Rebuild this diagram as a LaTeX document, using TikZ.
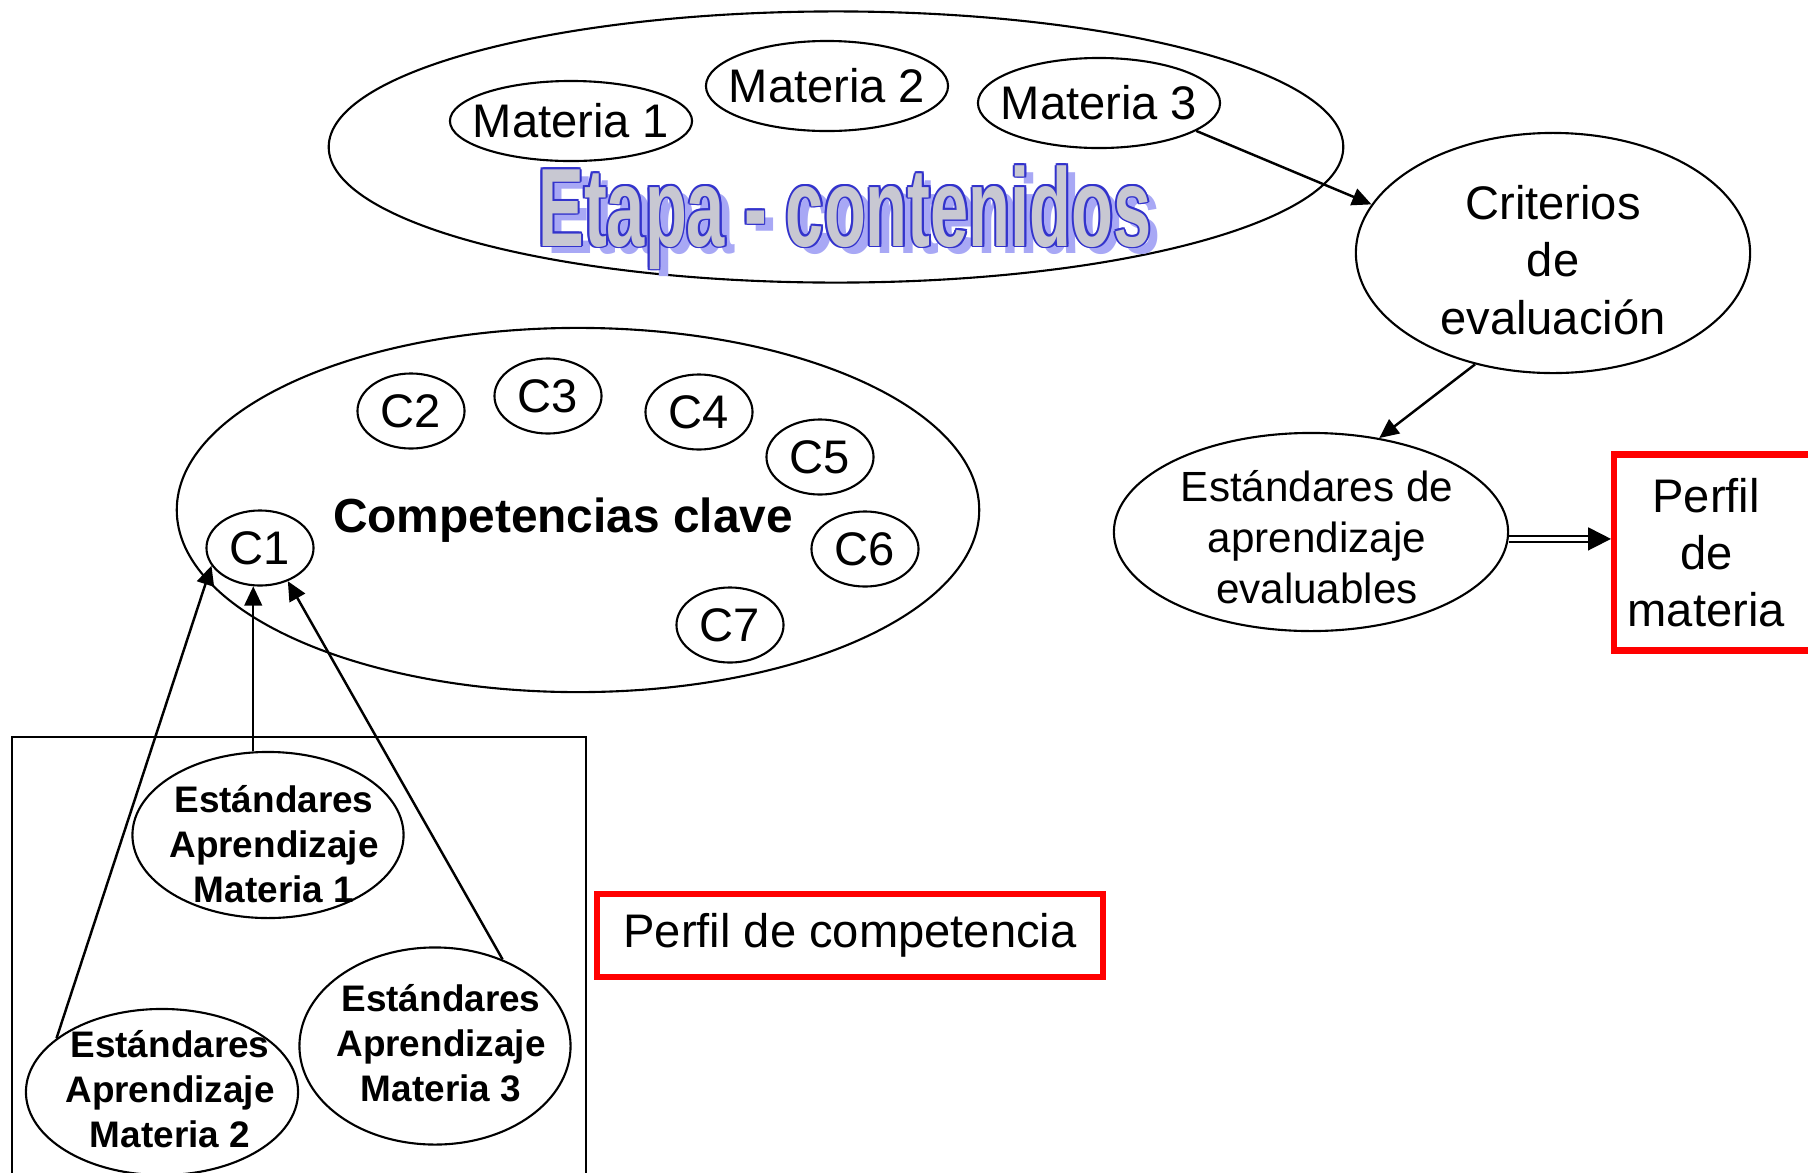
\documentclass[tikz,border=0pt]{standalone}
\usepackage{fontspec}
\setmainfont{Liberation Sans}
\usepackage{graphicx}
\usepackage{tikz}
\usetikzlibrary{shapes.geometric}
\usetikzlibrary{arrows.meta}
\definecolor{etline}{RGB}{51,51,204}
\definecolor{etfill}{RGB}{200,200,210}
\definecolor{etshadow}{RGB}{168,168,245}
\definecolor{rojo}{RGB}{255,0,0}
\newcommand{\etapatxt}{\scalebox{0.615}[1]{\fontsize{31.7}{34}\selectfont\bfseries Etapa - contenidos}}

\begin{document}
\begin{tikzpicture}[x=0.01cm,y=-0.01cm,
  every node/.style={font=\fontsize{13.4}{16.3}\selectfont,align=center},
  elip/.style={draw,ellipse,inner sep=0pt,line width=0.6pt},
  cnode/.style={elip,minimum width=1.07cm,minimum height=0.75cm},
  estdtxt/.style={font=\fontsize{10.5}{12.8}\selectfont\bfseries},
  caja/.style={draw=rojo,line width=1.8pt,inner sep=0pt},
  flecha/.style={-{Triangle[length=5.5pt,width=5pt]},line width=0.7pt},
  dflecha/.style={double,double distance=1.1pt,line width=0.5pt,-{Triangle[length=6.5pt,width=6.5pt]}}]
\clip (0,0) rectangle (1808,1172);
% etapa - contenidos
\node[elip,minimum width=10.14cm,minimum height=2.71cm] (etapabig) at (836,147) {};
\node[elip,minimum width=2.42cm,minimum height=0.8cm,label={center:Materia 1}] (m1) at (571,121) {};
\node[elip,minimum width=2.42cm,minimum height=0.9cm,label={center:Materia 2}] (m2) at (827,86) {};
\node[elip,minimum width=2.42cm,minimum height=0.9cm,label={center:Materia 3}] (m3) at (1099,103) {};
\node[anchor=base,text=etshadow,xshift=2.6pt,yshift=-2.2pt] (etsh) at (845,246) {\etapatxt};
\node[anchor=base,text=etline,xshift=0.55pt] (eto1) at (845,246) {\etapatxt};
\node[anchor=base,text=etline,xshift=-0.55pt] (eto2) at (845,246) {\etapatxt};
\node[anchor=base,text=etline,yshift=0.55pt] (eto3) at (845,246) {\etapatxt};
\node[anchor=base,text=etline,yshift=-0.55pt] (eto4) at (845,246) {\etapatxt};
\node[anchor=base,text=etline,xshift=0.4pt,yshift=0.4pt] (eto5) at (845,246) {\etapatxt};
\node[anchor=base,text=etline,xshift=-0.4pt,yshift=0.4pt] (eto6) at (845,246) {\etapatxt};
\node[anchor=base,text=etline,xshift=0.4pt,yshift=-0.4pt] (eto7) at (845,246) {\etapatxt};
\node[anchor=base,text=etline,xshift=-0.4pt,yshift=-0.4pt] (eto8) at (845,246) {\etapatxt};
\node[anchor=base,text=etfill] (etapa) at (845,246) {\etapatxt};

% criterios, estandares, perfil de materia
\node[elip,minimum width=3.94cm,minimum height=2.4cm,label={[yshift=-0.07cm]center:Criterios\\de\\evaluación}] (crit) at (1553,253) {};
\node[elip,minimum width=3.94cm,minimum height=1.98cm,label={[font=\fontsize{12}{14.5}\selectfont,xshift=0.06cm,yshift=-0.05cm]center:Estándares de\\aprendizaje\\evaluables}] (eval) at (1311,532) {};
\node[caja,minimum width=2.6cm,minimum height=1.96cm,anchor=west,label={[xshift=-0.38cm]center:Perfil\\de\\materia}] (pmat) at (1611,552.5) {};

% competencias clave
\node[elip,minimum width=8.02cm,minimum height=3.64cm,label={[font=\fontsize{13.6}{16}\selectfont\bfseries,xshift=-0.15cm,yshift=-0.1cm]center:Competencias clave}] (comp) at (578,510) {};
\node[cnode] (c1) at (260,548) {C1};
\node[cnode] (c2) at (411,411) {C2};
\node[cnode] (c3) at (548,396) {C3};
\node[cnode] (c4) at (699,412) {C4};
\node[cnode] (c5) at (820,457) {C5};
\node[cnode] (c6) at (865,549) {C6};
\node[cnode] (c7) at (730,625) {C7};

% perfil de competencia
\node[draw,line width=0.6pt,minimum width=5.74cm,minimum height=5cm,anchor=north west,inner sep=0pt] (marco) at (11,736) {};
\node[elip,minimum width=2.71cm,minimum height=1.66cm,label={[estdtxt,xshift=0.06cm,yshift=-0.09cm]center:Estándares\\Aprendizaje\\Materia 1}] (sm1) at (268,835) {};
\node[elip,minimum width=2.72cm,minimum height=1.66cm,label={[estdtxt,xshift=0.08cm,yshift=0.03cm]center:Estándares\\Aprendizaje\\Materia 2}] (sm2) at (162,1092) {};
\node[elip,minimum width=2.71cm,minimum height=1.97cm,label={[estdtxt,xshift=0.06cm,yshift=0.03cm]center:Estándares\\Aprendizaje\\Materia 3}] (sm3) at (435,1046) {};
\node[caja,minimum width=5.06cm,minimum height=0.83cm] (pcomp) at (850,935.5) {Perfil de competencia};

\draw[flecha] (m3.-16) -- (crit.165);
\draw[flecha] (crit.-125) -- (eval.54);
\draw[dflecha] (eval.-2.5) -- (eval.-2.5 -| pmat.west);
\draw[flecha] (sm1.north -| c1.-100) -- (c1.-100);
\draw[flecha] (sm2.153) -- (c1.-160);
\draw[flecha] (sm3.52) -- (c1.-50);
\end{tikzpicture}
\end{document}
